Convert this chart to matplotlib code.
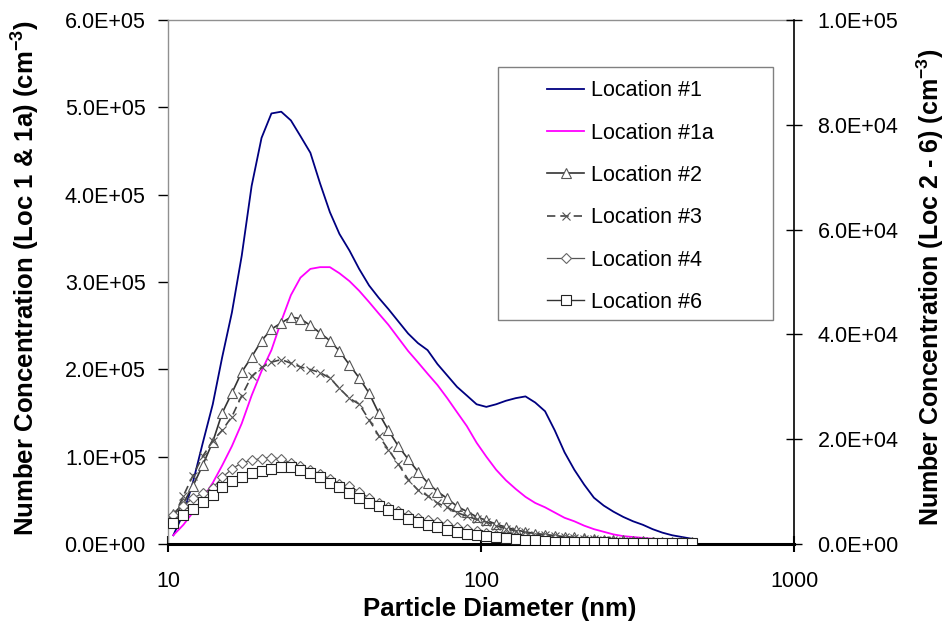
import matplotlib
matplotlib.use('Agg')
import matplotlib.pyplot as plt
from matplotlib.patches import Rectangle
from matplotlib.ticker import FormatStrFormatter
import numpy as np

plt.rcParams['font.family'] = ['Liberation Sans', 'DejaVu Sans']
plt.rcParams['mathtext.fontset'] = 'custom'
plt.rcParams['mathtext.rm'] = 'Liberation Sans:bold'
plt.rcParams['mathtext.it'] = 'Liberation Sans:bold'
plt.rcParams['mathtext.bf'] = 'Liberation Sans:bold'
plt.rcParams['mathtext.default'] = 'rm'

# particle diameter bins (nm)
diam = [10.4, 11.2, 12.0, 12.9, 13.9, 14.9, 16.0, 17.2, 18.5, 19.9,
        21.4, 23.0, 24.7, 26.5, 28.5, 30.6, 32.9, 35.3, 38.0, 40.8,
        43.9, 47.1, 50.6, 54.4, 58.5, 62.9, 67.5, 72.6, 78.0, 83.8,
        90.1, 96.8, 104.0, 111.8, 120.1, 129.1, 138.7, 149.0, 160.2, 172.1,
        184.9, 198.7, 213.6, 229.5, 246.6, 265.0, 284.8, 306.1, 328.9, 353.4,
        379.8, 408.1, 438.6, 471.3]

# left axis, x1e5 cm^-3
loc1 = [0.10, 0.35, 0.70, 1.15, 1.60, 2.14, 2.65, 3.30, 4.10, 4.65,
        4.93, 4.95, 4.85, 4.67, 4.48, 4.13, 3.80, 3.55, 3.36, 3.15,
        2.96, 2.82, 2.69, 2.55, 2.41, 2.30, 2.22, 2.06, 1.93, 1.80,
        1.70, 1.60, 1.57, 1.60, 1.64, 1.67, 1.69, 1.62, 1.52, 1.30,
        1.05, 0.85, 0.68, 0.53, 0.44, 0.37, 0.31, 0.26, 0.22, 0.17,
        0.13, 0.10, 0.08, 0.06]
loc1a = [0.10, 0.22, 0.36, 0.52, 0.70, 0.90, 1.12, 1.38, 1.70, 1.98,
         2.22, 2.55, 2.85, 3.05, 3.15, 3.17, 3.17, 3.10, 3.01, 2.90,
         2.77, 2.64, 2.51, 2.36, 2.21, 2.08, 1.95, 1.82, 1.67, 1.51,
         1.35, 1.16, 1.00, 0.85, 0.73, 0.63, 0.54, 0.47, 0.42, 0.36,
         0.30, 0.26, 0.21, 0.17, 0.14, 0.11, 0.09, 0.08, 0.07, 0.06,
         0.05, 0.04, 0.04, 0.03]

# right axis, x1e4 cm^-3
loc2 = [0.57, 0.78, 1.10, 1.50, 1.95, 2.50, 2.88, 3.28, 3.57, 3.88,
        4.10, 4.22, 4.33, 4.30, 4.17, 4.03, 3.88, 3.68, 3.42, 3.17,
        2.88, 2.50, 2.17, 1.87, 1.62, 1.38, 1.17, 1.00, 0.87, 0.72,
        0.62, 0.52, 0.45, 0.38, 0.32, 0.27, 0.23, 0.20, 0.18, 0.16,
        0.14, 0.125, 0.11, 0.097, 0.083, 0.075, 0.067, 0.058, 0.05, 0.047,
        0.042, 0.037, 0.033, 0.03]
loc3 = [0.50, 0.92, 1.30, 1.67, 1.97, 2.17, 2.43, 2.83, 3.20, 3.37,
        3.47, 3.52, 3.45, 3.38, 3.33, 3.27, 3.17, 2.97, 2.78, 2.67,
        2.37, 2.07, 1.80, 1.53, 1.23, 1.03, 0.92, 0.78, 0.70, 0.60,
        0.53, 0.47, 0.42, 0.35, 0.29, 0.25, 0.22, 0.18, 0.17, 0.15,
        0.13, 0.11, 0.10, 0.088, 0.078, 0.07, 0.062, 0.055, 0.05, 0.045,
        0.04, 0.037, 0.033, 0.03]
loc4 = [0.55, 0.73, 0.87, 0.97, 1.07, 1.27, 1.43, 1.55, 1.60, 1.63,
        1.65, 1.62, 1.55, 1.48, 1.42, 1.33, 1.25, 1.15, 1.10, 1.00,
        0.88, 0.78, 0.70, 0.63, 0.55, 0.50, 0.45, 0.42, 0.38, 0.33,
        0.28, 0.24, 0.21, 0.18, 0.16, 0.14, 0.127, 0.113, 0.105, 0.093,
        0.083, 0.075, 0.067, 0.058, 0.053, 0.047, 0.042, 0.037, 0.033, 0.03,
        0.028, 0.025, 0.023, 0.022]
loc6 = [0.40, 0.55, 0.67, 0.80, 0.93, 1.08, 1.20, 1.28, 1.35, 1.40,
        1.43, 1.47, 1.46, 1.42, 1.35, 1.27, 1.17, 1.08, 0.98, 0.88,
        0.79, 0.73, 0.65, 0.57, 0.475, 0.42, 0.37, 0.32, 0.275, 0.23,
        0.20, 0.18, 0.16, 0.13, 0.11, 0.095, 0.083, 0.067, 0.05, 0.045,
        0.04, 0.037, 0.033, 0.032, 0.03, 0.028, 0.027, 0.025, 0.023, 0.022,
        0.02, 0.02, 0.018, 0.018]

d = np.array(diam)

fig = plt.figure(figsize=(9.46, 6.28), dpi=100)
ax = fig.add_axes([168/946, 84/628, 626/946, 524/628])
ax2 = ax.twinx()

l1, = ax.plot(d, np.array(loc1)*1e5, color='#000080', lw=1.3, label='Location #1')
l1a, = ax.plot(d, np.array(loc1a)*1e5, color='#ff00ff', lw=1.3, label='Location #1a')

l2, = ax2.plot(d, np.array(loc2)*1e4, color='#333333', lw=1.2, marker='^', ms=7,
               mfc='white', mec='#555555', mew=0.8, label='Location #2')
l3, = ax2.plot(d, np.array(loc3)*1e4, color='#444444', lw=1.2, ls=(0, (5, 3)), marker='x',
               ms=6, mec='#555555', mew=0.8, label='Location #3')
l4, = ax2.plot(d, np.array(loc4)*1e4, color='#555555', lw=0.9, marker='D', ms=5,
               mfc='white', mec='#666666', mew=0.8, label='Location #4')
l6, = ax2.plot(d, np.array(loc6)*1e4, color='#333333', lw=1.0, marker='s', ms=7,
               mfc='white', mec='#222222', mew=0.8, label='Location #6')

ax.set_xscale('log')
ax.set_xlim(10, 1000)
ax.set_ylim(0, 6e5)
ax2.set_ylim(0, 1e5)
ax.set_yticks(np.arange(0, 6.01e5, 1e5))
ax2.set_yticks(np.arange(0, 1.01e5, 2e4))
ax.yaxis.set_major_formatter(FormatStrFormatter('%.1E'))
ax2.yaxis.set_major_formatter(FormatStrFormatter('%.1E'))
ax.set_xticks([10, 100, 1000])
ax.set_xticklabels(['10', '100', '1000'])
ax.xaxis.set_minor_locator(matplotlib.ticker.NullLocator())

ax.tick_params(axis='y', direction='out', length=7, width=1, pad=9, labelsize=15.5, colors='black')
ax.tick_params(axis='x', direction='inout', length=11, width=1.5, pad=14, labelsize=15.5)
ax2.tick_params(axis='y', direction='inout', length=12, width=1, pad=11, labelsize=15.5)

for s in ['left', 'top']:
    ax.spines[s].set_color('#909090')
    ax.spines[s].set_linewidth(1)
ax.spines['bottom'].set_linewidth(2.2)
ax.spines['right'].set_visible(False)
for s in ['left', 'top', 'bottom']:
    ax2.spines[s].set_visible(False)
ax2.spines['right'].set_linewidth(1.2)

ax.set_xlabel('Particle Diameter (nm)', fontsize=18.5, fontweight='bold')
ax.xaxis.set_label_coords(0.53, -0.102)
ax.set_ylabel('Number Concentration (Loc 1 & 1a) (cm$^{-3}$)', fontsize=18.5, fontweight='bold')
ax.yaxis.set_label_coords(-0.201, 0.508)
ax2.set_ylabel('Number Concentration (Loc 2 - 6) (cm$^{-3}$)', fontsize=18, fontweight='bold',
               rotation=90)
ax2.yaxis.set_label_coords(1.192, 0.489)

# legend box
box = Rectangle((0.527, 0.4275), 0.4395, 0.4825, transform=ax2.transAxes,
                facecolor='white', edgecolor='#808080', lw=1, zorder=5)
ax2.add_patch(box)
leg = ax2.legend(handles=[l1, l1a, l2, l3, l4, l6], loc='upper left',
                 bbox_to_anchor=(0.605, 0.885), frameon=False, fontsize=15.5,
                 borderpad=0, borderaxespad=0, handlelength=1.75, handletextpad=0.3,
                 labelspacing=0.99)
leg.set_zorder(6)

fig.savefig('out.png', dpi=100)
